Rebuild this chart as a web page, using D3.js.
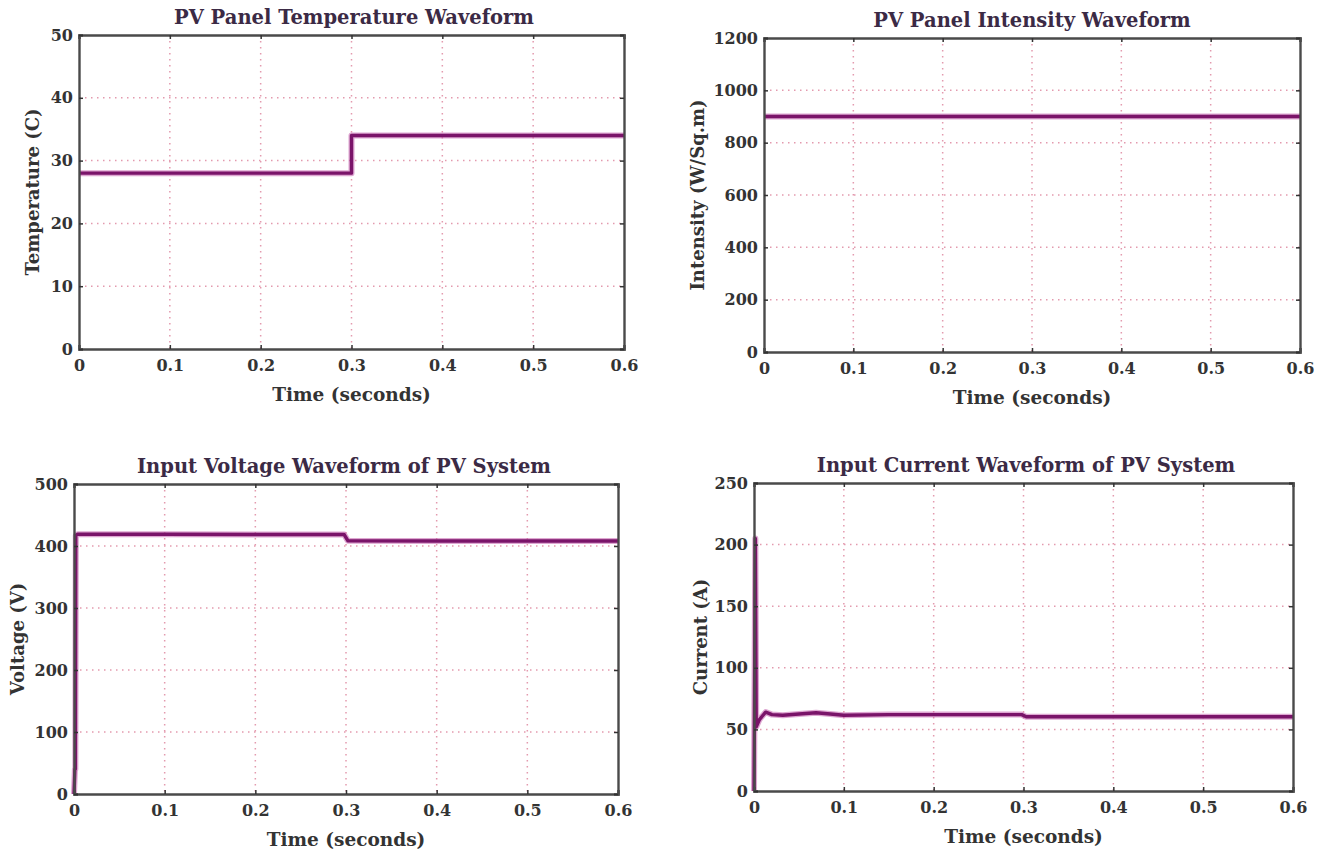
<!DOCTYPE html>
<html>
<head>
<meta charset="utf-8">
<script src="https://cdn.jsdelivr.net/npm/d3@7"></script>
<style>
  body { margin: 0; background: #fff; }
  svg text { font-family: "DejaVu Serif", serif; font-weight: bold; }
</style>
</head>
<body>
<svg id="chart" width="1329" height="854"></svg>
<script>
// ---- data ----
const timeTicks = [0, 0.1, 0.2, 0.3, 0.4, 0.5, 0.6];

const tempTime  = [0, 0.3, 0.3, 0.6];
const tempValue = [28, 28, 34, 34];
const tempTicks = [0, 10, 20, 30, 40, 50];

const intensityTime  = [0, 0.6];
const intensityValue = [900, 900];
const intensityTicks = [0, 200, 400, 600, 800, 1000, 1200];

const voltageTime  = [0, 0.001, 0.0015, 0.002, 0.004, 0.05, 0.1, 0.2, 0.298, 0.302, 0.4, 0.5, 0.6];
const voltageValue = [0, 40, 40, 417, 419, 419, 419, 418.5, 418.5, 408.5, 408, 408, 408];
const voltageTicks = [0, 100, 200, 300, 400, 500];

const currentTime  = [0, 0.0015, 0.0025, 0.006, 0.013, 0.02, 0.032, 0.05, 0.069, 0.085, 0.1, 0.15, 0.2, 0.25, 0.298, 0.303, 0.4, 0.5, 0.6];
const currentValue = [0, 205, 52, 58, 64, 62, 61.5, 62.5, 63.5, 62.5, 61.5, 62, 62, 62, 62, 60.3, 60.3, 60.3, 60.3];
const currentTicks = [0, 50, 100, 150, 200, 250];

const panels = [
  { title: "PV Panel Temperature Waveform", ylabel: "Temperature (C)",
    t: tempTime, v: tempValue, yTicks: tempTicks,
    box: { l: 79, r: 624, t: 35, b: 349 }, titleX: 354, ylabelX: 33 },
  { title: "PV Panel Intensity Waveform", ylabel: "Intensity (W/Sq.m)",
    t: intensityTime, v: intensityValue, yTicks: intensityTicks,
    box: { l: 764, r: 1300, t: 38, b: 352 }, titleX: 1032, ylabelX: 698 },
  { title: "Input Voltage Waveform of PV System", ylabel: "Voltage (V)",
    t: voltageTime, v: voltageValue, yTicks: voltageTicks,
    box: { l: 74, r: 618, t: 484, b: 794 }, titleX: 344, ylabelX: 18 },
  { title: "Input Current Waveform of PV System", ylabel: "Current (A)",
    t: currentTime, v: currentValue, yTicks: currentTicks,
    box: { l: 754, r: 1293, t: 483, b: 791 }, titleX: 1026, ylabelX: 701 }
];

const svg = d3.select("#chart");

function drawPanel(p) {
  const b = p.box;
  const x = d3.scaleLinear().domain([0, 0.6]).range([b.l, b.r]);
  const y = d3.scaleLinear().domain(d3.extent(p.yTicks)).range([b.b, b.t]);
  const g = svg.append("g");

  // dotted grid
  g.append("g").selectAll("line")
    .data(timeTicks.slice(1, -1))
    .join("line")
    .attr("x1", d => x(d)).attr("x2", d => x(d))
    .attr("y1", b.t).attr("y2", b.b)
    .attr("stroke", "#e39aae").attr("stroke-width", 1.5)
    .attr("stroke-dasharray", "1.5,4.5");
  g.append("g").selectAll("line")
    .data(p.yTicks.slice(1, -1))
    .join("line")
    .attr("x1", b.l).attr("x2", b.r)
    .attr("y1", d => y(d)).attr("y2", d => y(d))
    .attr("stroke", "#e39aae").attr("stroke-width", 1.5)
    .attr("stroke-dasharray", "1.5,4.5");

  // the waveform
  const line = d3.line().x((d, i) => x(p.t[i])).y(d => y(d));
  g.append("path")
    .attr("d", line(p.v))
    .attr("fill", "none")
    .attr("stroke", "#c25cab").attr("stroke-width", 6)
    .attr("stroke-opacity", 0.55)
    .attr("stroke-linejoin", "round");
  g.append("path")
    .attr("d", line(p.v))
    .attr("fill", "none")
    .attr("stroke", "#7a1469").attr("stroke-width", 3.4)
    .attr("stroke-linejoin", "round");

  // axes (ticks inside, box all round)
  const axB = d3.axisBottom(x).tickValues(timeTicks).tickSize(-4).tickPadding(11)
    .tickFormat(d => d === 0 ? "0" : d3.format(".1f")(d));
  const axT = d3.axisTop(x).tickValues(timeTicks).tickSize(-4).tickFormat("");
  const axL = d3.axisLeft(y).tickValues(p.yTicks).tickSize(-4).tickPadding(6)
    .tickFormat(d3.format("d"));
  const axR = d3.axisRight(y).tickValues(p.yTicks).tickSize(-4).tickFormat("");

  [[axB, `translate(0,${b.b})`], [axT, `translate(0,${b.t})`],
   [axL, `translate(${b.l},0)`], [axR, `translate(${b.r},0)`]].forEach(([ax, tr]) => {
    const a = g.append("g").attr("transform", tr).call(ax);
    a.select(".domain").attr("stroke", "#4a4a4a").attr("stroke-width", 2.4);
    a.selectAll(".tick line").attr("stroke", "#333").attr("stroke-width", 1.5);
    a.selectAll(".tick text").attr("fill", "#333").style("font-size", "16px")
      .style("font-family", "DejaVu Serif").style("font-weight", "bold");
  });

  g.append("text")
    .attr("x", p.titleX).attr("y", b.t - 11)
    .attr("text-anchor", "middle")
    .attr("fill", "#3b2a45")
    .style("font-size", "19.5px")
    .text(p.title);

  g.append("text")
    .attr("x", (b.l + b.r) / 2).attr("y", b.b + 52)
    .attr("text-anchor", "middle")
    .attr("fill", "#333")
    .style("font-size", "18.5px")
    .text("Time (seconds)");

  g.append("text")
    .attr("transform", `translate(${p.ylabelX},${(b.t + b.b) / 2}) rotate(-90)`)
    .attr("text-anchor", "middle")
    .attr("dy", "0.35em")
    .attr("fill", "#333")
    .style("font-size", "18px")
    .text(p.ylabel);
}

panels.forEach(drawPanel);
</script>
</body>
</html>
